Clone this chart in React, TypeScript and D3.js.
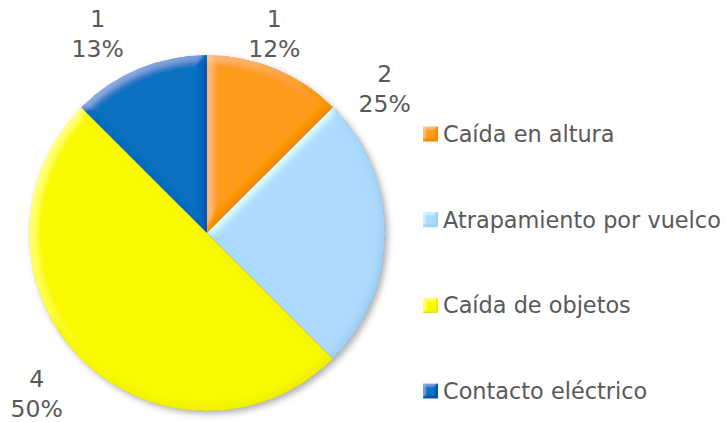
import React from "react";
import * as d3 from "d3";

// data
const categories = ["Caída en altura", "Atrapamiento por vuelco", "Caída de objetos", "Contacto eléctrico"];
const counts = [1, 2, 4, 1];
const pctLabels = ["12%", "25%", "50%", "13%"]; // as Excel rounded them
const colors = ["#FD9B1C", "#ADDBFE", "#F9F900", "#0E70C1"];

// label placement: [angle from 12 o'clock in degrees, distance from the centre]
const labelPlacement = [
  [18.7, 210],
  [50.9, 229],
  [226.6, 234.5],
  [331.2, 227],
];

const W = 727;
const H = 422;
const cx = 207;
const cy = 233;
const radius = 178;
const textColor = "#595959";
const font = "'DejaVu Sans', Verdana, sans-serif";

// soft bevel: blurred alpha lit from the top-left, flat areas stay untouched
function Bevel({ id, blur, scale }: { id: string; blur: number; scale: number }) {
  return (
    <filter id={id} x="-10%" y="-10%" width="120%" height="120%">
      <feGaussianBlur in="SourceAlpha" stdDeviation={blur} result="blur" />
      <feDiffuseLighting in="blur" surfaceScale={scale} diffuseConstant="1" lightingColor="#fff" result="light">
        <feDistantLight azimuth="225" elevation="30" />
      </feDiffuseLighting>
      <feComponentTransfer in="light" result="soft">
        <feFuncR type="table" tableValues="0.38 0.5 1" />
        <feFuncG type="table" tableValues="0.38 0.5 1" />
        <feFuncB type="table" tableValues="0.38 0.5 1" />
      </feComponentTransfer>
      <feComposite in="SourceGraphic" in2="soft" operator="arithmetic" k1="0" k2="1" k3="0.6" k4="-0.3" result="lit" />
      <feComposite in="lit" in2="SourceAlpha" operator="in" />
    </filter>
  );
}

export default function App() {
  const pie = d3.pie<number>().sort(null).value((d) => d)(counts);
  const arc = d3.arc<d3.PieArcDatum<number>>().innerRadius(0).outerRadius(radius);

  const legendY = d3.scalePoint<number>().domain(d3.range(categories.length)).range([134, 391]);

  return (
    <>
      <style>{"body{margin:0}"}</style>
      <svg width={W} height={H} style={{ display: "block" }} fontFamily={font}>
        <defs>
          <Bevel id="bevel" blur={4} scale={4} />
          <Bevel id="bevelSmall" blur={1.5} scale={2.5} />
          <filter id="shadow" x="-10%" y="-10%" width="125%" height="125%">
            <feDropShadow dx="3" dy="3" stdDeviation="3" floodColor="#000" floodOpacity="0.3" />
          </filter>
        </defs>

        <g transform={`translate(${cx},${cy})`}>
          <g filter="url(#shadow)">
            {pie.map((p, i) => (
              <path key={i} d={arc(p) ?? ""} fill={colors[i]} filter="url(#bevel)" />
            ))}
          </g>
          {pie.map((p, i) => {
            const [deg, dist] = labelPlacement[i];
            const a = (deg * Math.PI) / 180;
            const x = Math.sin(a) * dist;
            const y = -Math.cos(a) * dist;
            return (
              <text key={i} x={x} y={y} textAnchor="middle" fontSize={23.5} fill={textColor}>
                <tspan x={x} dy={-7}>{p.data}</tspan>
                <tspan x={x} dy={30}>{pctLabels[i]}</tspan>
              </text>
            );
          })}
        </g>

        <g>
          {categories.map((c, i) => (
            <g key={c} transform={`translate(423,${legendY(i)})`}>
              <rect x={0} y={-7.5} width={15} height={15} fill={colors[i]} filter="url(#bevelSmall)" />
              <text x={20} y={0} dy="0.36em" fontSize={22.4} fill={textColor}>
                {c}
              </text>
            </g>
          ))}
        </g>
      </svg>
    </>
  );
}
